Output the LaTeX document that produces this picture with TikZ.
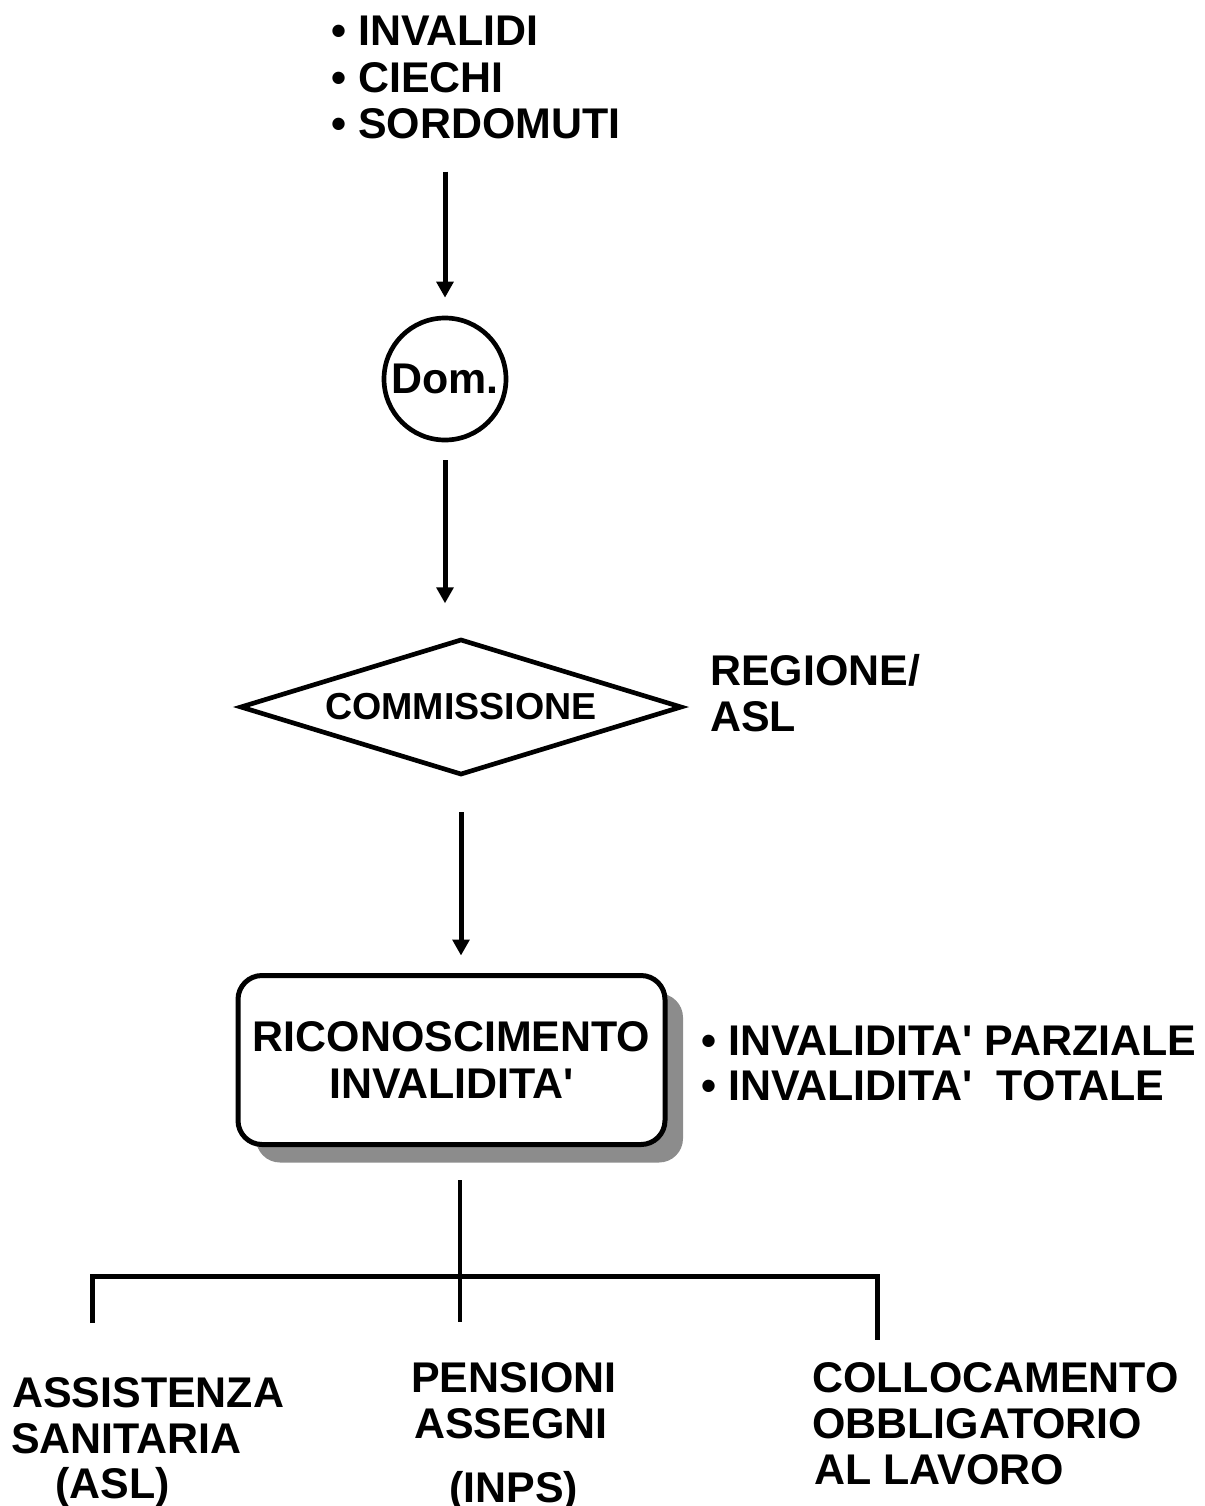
\documentclass[tikz,border=0pt]{standalone}
\usepackage{fontspec}
\setmainfont{Liberation Sans}
\usetikzlibrary{arrows.meta,shapes.geometric,shadows,calc}
\newcommand{\apo}{\textquotesingle}
\begin{document}
\begin{tikzpicture}[x=0.75pt,y=-0.75pt,
  bigfont/.style={font=\fontsize{32.2pt}{35.25pt}\selectfont\bfseries},
  big/.style={bigfont, inner sep=0pt, anchor=base west},
  ln/.style={line width=3.5pt, draw=black},
  arr/.style={line width=3.75pt, draw=black, -{Triangle[length=12pt,width=12.5pt]}},
]
\useasboundingbox (0,0) rectangle (1204,1506);

% top list
\node[big] (t1) at (331,45)  {• INVALIDI};
\node[big] (t2) at (331,92)  {• CIECHI};
\node[big] (t3) at (331,138) {• SORDOMUTI};

% Dom circle
\node[circle, ln, minimum size=91.5pt, inner sep=0pt, bigfont] (dom) at (445,379) {Dom.};

% diamond
\node[diamond, ln, minimum width=331.5pt, minimum height=102pt, inner sep=0pt, aspect=3.25,
      font=\fontsize{28.2pt}{30pt}\selectfont\bfseries] (comm) at (461,707) {COMMISSIONE};
\node[big] (reg1) at (710,685) {REGIONE/};
\node[big] (reg2) at (710,731) {ASL};

% rounded box with shadow
\node[draw=black, line width=3.75pt, rounded corners=18pt, fill=white,
      minimum width=320.25pt, minimum height=126.75pt, align=center, bigfont,
      drop shadow={shadow xshift=13.5pt, shadow yshift=-13.5pt, fill=black!45, opacity=1}]
      (box) at (451.5,1060) {RICONOSCIMENTO\\INVALIDITA\apo};

\node[big] (inv1) at (701,1055) {• INVALIDITA\apo{} PARZIALE};
\node[big] (inv2) at (701,1100) {• INVALIDITA\apo\ \ TOTALE};

% arrows
\draw[arr] ([yshift=108pt]dom.north) -- ([yshift=13.5pt]dom.north);
\draw[arr] ([yshift=-13.5pt]dom.south) -- ([yshift=-120.75pt]dom.south);
\draw[arr] ($(comm.south)+(0,35)$) -- ($(box.north -| comm.south)+(0,-17.5)$);

% tree
\coordinate (hub) at (460,1276);
\coordinate (lft) at (92,1276);
\coordinate (rgt) at (877,1276);
\draw[ln] ($(box.south -| hub)+(0,33)$) -- ($(hub)+(0,46)$);
\draw[ln, line width=3.75pt] ($(lft)+(0,47)$) -- (lft) -- (rgt) -- ($(rgt)+(0,64)$);

% bottom texts
\node[big] (b1) at (12,1407)  {ASSISTENZA};
\node[big] (b2) at (11,1453)  {SANITARIA};
\node[big] (b3) at (55,1498)  {(ASL)};
\node[big] (c1) at (411,1392) {PENSIONI};
\node[big] (c2) at (414,1438) {ASSEGNI};
\node[big] (c3) at (449,1502) {(INPS)};
\node[big] (d1) at (812,1392) {COLLOCAMENTO};
\node[big] (d2) at (812,1438) {OBBLIGATORIO};
\node[big] (d3) at (814,1484) {AL LAVORO};
\end{tikzpicture}
\end{document}
